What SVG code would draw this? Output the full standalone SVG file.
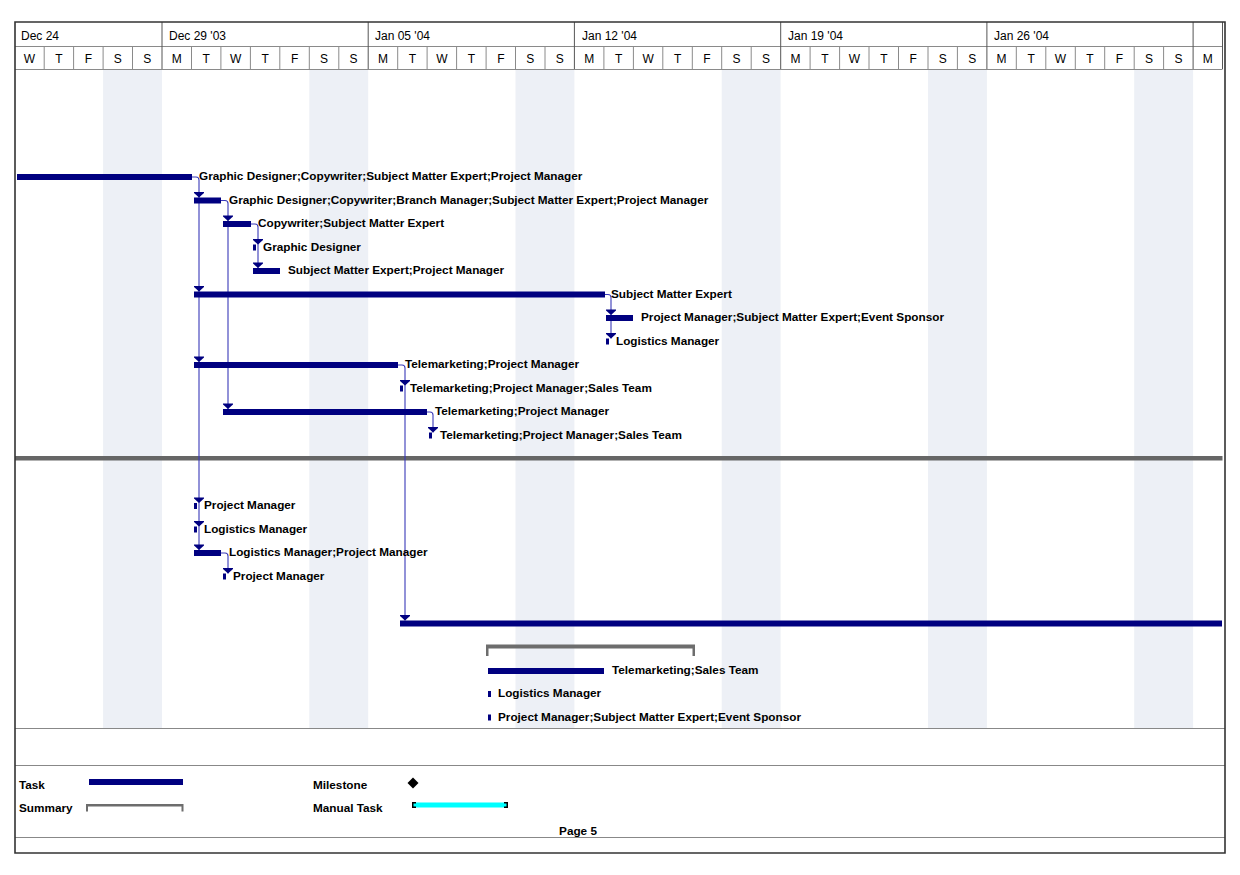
<svg xmlns="http://www.w3.org/2000/svg" xmlns:xlink="http://www.w3.org/1999/xlink" width="1240" height="875" viewBox="0 0 1240 875">
<style>
.hd{font-family:"Liberation Sans",Arial,sans-serif;font-size:12px;fill:#000}
.dy{font-family:"Liberation Sans",Arial,sans-serif;font-size:12px;fill:#000;text-anchor:middle}
.lbl{font-family:"Liberation Sans",Arial,sans-serif;font-size:11.75px;font-weight:bold;fill:#000}
.task{fill:#000080}
.wk{fill:#edf0f6}
.dl{stroke:#8a8a8a;stroke-width:1;fill:none}
.wl{stroke:#555;stroke-width:1;fill:none}
.con{stroke:#3a3ab8;stroke-width:1.1;fill:none}
.arr{fill:#000080}
.sum{fill:#6d6d6d}
</style>
<defs>
<path id="ah" d="M-5,-5.5 H5 V-4.5 L0,0 L-5,-4.5 Z"/>
</defs>
<rect x="0" y="0" width="1240" height="875" fill="#fff"/>
<g id="weekends">
<rect class="wk" x="103.1" y="69" width="58.9" height="659"/>
<rect class="wk" x="309.3" y="69" width="58.9" height="659"/>
<rect class="wk" x="515.5" y="69" width="58.9" height="659"/>
<rect class="wk" x="721.7" y="69" width="58.9" height="659"/>
<rect class="wk" x="928.0" y="69" width="58.9" height="659"/>
<rect class="wk" x="1134.2" y="69" width="58.9" height="659"/>
</g>
<g id="timescale">
<path class="dl" d="M15,46.5 H1222.5 M15,69.5 H1222.5"/>
<path class="dl" d="M44.2,46 V69 M73.6,46 V69 M103.1,46 V69 M132.5,46 V69 M191.5,46 V69 M220.9,46 V69 M250.4,46 V69 M279.8,46 V69 M309.3,46 V69 M338.8,46 V69 M397.7,46 V69 M427.1,46 V69 M456.6,46 V69 M486.1,46 V69 M515.5,46 V69 M545,46 V69 M603.9,46 V69 M633.4,46 V69 M662.8,46 V69 M692.3,46 V69 M721.7,46 V69 M751.2,46 V69 M810.1,46 V69 M839.6,46 V69 M869,46 V69 M898.5,46 V69 M928,46 V69 M957.4,46 V69 M1016.3,46 V69 M1045.8,46 V69 M1075.3,46 V69 M1104.7,46 V69 M1134.2,46 V69 M1163.6,46 V69"/>
<path class="wl" d="M162,22 V69 M368.2,22 V69 M574.4,22 V69 M780.7,22 V69 M986.9,22 V69 M1193.1,22 V69 M1222.5,22 V69"/>
<text class="hd" x="21" y="40">Dec 24</text>
<text class="hd" x="169" y="40">Dec 29 '03</text>
<text class="hd" x="375" y="40">Jan 05 '04</text>
<text class="hd" x="582" y="40">Jan 12 '04</text>
<text class="hd" x="788" y="40">Jan 19 '04</text>
<text class="hd" x="994" y="40">Jan 26 '04</text>
<text class="dy" x="29.4" y="63">W</text><text class="dy" x="58.9" y="63">T</text><text class="dy" x="88.4" y="63">F</text><text class="dy" x="117.8" y="63">S</text><text class="dy" x="147.3" y="63">S</text>
<text class="dy" x="176.7" y="63">M</text><text class="dy" x="206.2" y="63">T</text><text class="dy" x="235.7" y="63">W</text><text class="dy" x="265.1" y="63">T</text><text class="dy" x="294.6" y="63">F</text><text class="dy" x="324" y="63">S</text><text class="dy" x="353.5" y="63">S</text>
<text class="dy" x="383" y="63">M</text><text class="dy" x="412.4" y="63">T</text><text class="dy" x="441.9" y="63">W</text><text class="dy" x="471.3" y="63">T</text><text class="dy" x="500.8" y="63">F</text><text class="dy" x="530.3" y="63">S</text><text class="dy" x="559.7" y="63">S</text>
<text class="dy" x="589.2" y="63">M</text><text class="dy" x="618.6" y="63">T</text><text class="dy" x="648.1" y="63">W</text><text class="dy" x="677.6" y="63">T</text><text class="dy" x="707" y="63">F</text><text class="dy" x="736.5" y="63">S</text><text class="dy" x="765.9" y="63">S</text>
<text class="dy" x="795.4" y="63">M</text><text class="dy" x="824.9" y="63">T</text><text class="dy" x="854.3" y="63">W</text><text class="dy" x="883.8" y="63">T</text><text class="dy" x="913.2" y="63">F</text><text class="dy" x="942.7" y="63">S</text><text class="dy" x="972.2" y="63">S</text>
<text class="dy" x="1001.6" y="63">M</text><text class="dy" x="1031.1" y="63">T</text><text class="dy" x="1060.5" y="63">W</text><text class="dy" x="1090" y="63">T</text><text class="dy" x="1119.5" y="63">F</text><text class="dy" x="1148.9" y="63">S</text><text class="dy" x="1178.4" y="63">S</text>
<text class="dy" x="1207.8" y="63">M</text>
</g>
<g id="separator">
<rect x="15" y="456" width="1207.5" height="4.5" fill="#666"/>
</g>
<g id="connectors">
<path class="con" d="M192,177 H196 Q199,177 199,180 V550"/>
<path class="con" d="M221,200.5 H225 Q228,200.5 228,203.5 V409"/>
<path class="con" d="M251,224 H255 Q258,224 258,227 V268"/>
<path class="con" d="M605,294.5 H608 Q611,294.5 611,297.5 V338.5"/>
<path class="con" d="M398,365 H402 Q405,365 405,368 V620.5"/>
<path class="con" d="M427,412 H430 Q433,412 433,415 V432.5"/>
<path class="con" d="M221,553 H225 Q228,553 228,556 V573.5"/>
<use href="#ah" class="arr" x="199" y="197.5"/>
<use href="#ah" class="arr" x="199" y="291.5"/>
<use href="#ah" class="arr" x="199" y="362"/>
<use href="#ah" class="arr" x="199" y="503"/>
<use href="#ah" class="arr" x="199" y="526.5"/>
<use href="#ah" class="arr" x="199" y="550"/>
<use href="#ah" class="arr" x="228" y="221"/>
<use href="#ah" class="arr" x="228" y="409"/>
<use href="#ah" class="arr" x="258" y="244.5"/>
<use href="#ah" class="arr" x="258" y="268"/>
<use href="#ah" class="arr" x="611" y="315"/>
<use href="#ah" class="arr" x="611" y="338.5"/>
<use href="#ah" class="arr" x="405" y="385.5"/>
<use href="#ah" class="arr" x="405" y="620.5"/>
<use href="#ah" class="arr" x="433" y="432.5"/>
<use href="#ah" class="arr" x="228" y="573.5"/>
</g>
<g id="t1"><rect class="task" x="17" y="174" width="175" height="6"/><text class="lbl" x="199" y="180">Graphic Designer;Copywriter;Subject Matter Expert;Project Manager</text></g>
<g id="t2"><rect class="task" x="194" y="197.5" width="27" height="6"/><text class="lbl" x="229" y="203.5">Graphic Designer;Copywriter;Branch Manager;Subject Matter Expert;Project Manager</text></g>
<g id="t3"><rect class="task" x="223" y="221" width="28" height="6"/><text class="lbl" x="258" y="227">Copywriter;Subject Matter Expert</text></g>
<g id="t4"><rect class="task" x="253" y="244.5" width="3" height="6"/><text class="lbl" x="263" y="250.5">Graphic Designer</text></g>
<g id="t5"><rect class="task" x="253" y="268" width="27" height="6"/><text class="lbl" x="288" y="274">Subject Matter Expert;Project Manager</text></g>
<g id="t6"><rect class="task" x="194" y="291.5" width="411" height="6"/><text class="lbl" x="611" y="297.5">Subject Matter Expert</text></g>
<g id="t7"><rect class="task" x="606" y="315" width="27" height="6"/><text class="lbl" x="641" y="321">Project Manager;Subject Matter Expert;Event Sponsor</text></g>
<g id="t8"><rect class="task" x="606" y="338.5" width="3" height="6"/><text class="lbl" x="616" y="344.5">Logistics Manager</text></g>
<g id="t9"><rect class="task" x="194" y="362" width="204" height="6"/><text class="lbl" x="405" y="368">Telemarketing;Project Manager</text></g>
<g id="t10"><rect class="task" x="400" y="385.5" width="3" height="6"/><text class="lbl" x="410" y="391.5">Telemarketing;Project Manager;Sales Team</text></g>
<g id="t11"><rect class="task" x="223" y="409" width="204" height="6"/><text class="lbl" x="435" y="415">Telemarketing;Project Manager</text></g>
<g id="t12"><rect class="task" x="429" y="432.5" width="3" height="6"/><text class="lbl" x="440" y="438.5">Telemarketing;Project Manager;Sales Team</text></g>
<g id="t13"><rect class="task" x="194" y="503" width="3" height="6"/><text class="lbl" x="204" y="509">Project Manager</text></g>
<g id="t14"><rect class="task" x="194" y="526.5" width="3" height="6"/><text class="lbl" x="204" y="532.5">Logistics Manager</text></g>
<g id="t15"><rect class="task" x="194" y="550" width="27" height="6"/><text class="lbl" x="229" y="556">Logistics Manager;Project Manager</text></g>
<g id="t16"><rect class="task" x="223" y="573.5" width="3" height="6"/><text class="lbl" x="233" y="579.5">Project Manager</text></g>
<g id="t17"><rect class="task" x="400" y="620.5" width="822" height="6"/></g>
<g id="s18"><path class="sum" d="M486,656 V644.5 H695 V656 H692.5 V648.5 H488.5 V656 Z"/></g>
<g id="t19"><rect class="task" x="488" y="668" width="116" height="6"/><text class="lbl" x="612" y="674">Telemarketing;Sales Team</text></g>
<g id="t20"><rect class="task" x="488" y="691" width="3" height="6"/><text class="lbl" x="498" y="697">Logistics Manager</text></g>
<g id="t21"><rect class="task" x="488" y="714.5" width="3" height="6"/><text class="lbl" x="498" y="720.5">Project Manager;Subject Matter Expert;Event Sponsor</text></g>
<g id="legend">
<path d="M15,728.5 H1225 M15,765.5 H1225 M15,837.5 H1225" stroke="#888" stroke-width="1" fill="none"/>
<text class="lbl" x="19" y="789">Task</text>
<rect class="task" x="89" y="779" width="94" height="6"/>
<text class="lbl" x="19" y="812">Summary</text>
<path class="sum" d="M86,811.5 V804 H183.5 V811.5 H181.5 V806.5 H88 V811.5 Z"/>
<text class="lbl" x="313" y="789">Milestone</text>
<path d="M413,777.5 L418.5,783 L413,788.5 L407.5,783 Z" fill="#000"/>
<text class="lbl" x="313" y="812">Manual Task</text>
<rect x="413" y="802.5" width="94" height="5" fill="#00ffff"/>
<path d="M412,802 h4 v1.5 h-2.5 v3 h2.5 v1.5 h-4 Z M508,802 h-4 v1.5 h2.5 v3 h-2.5 v1.5 h4 Z" fill="#000"/>
<text class="lbl" x="578" y="835" text-anchor="middle">Page 5</text>
</g>
<g id="frame">
<path d="M15,22 H1225 V853 H15 Z" fill="none" stroke="#333" stroke-width="1.6"/>
</g>
</svg>
